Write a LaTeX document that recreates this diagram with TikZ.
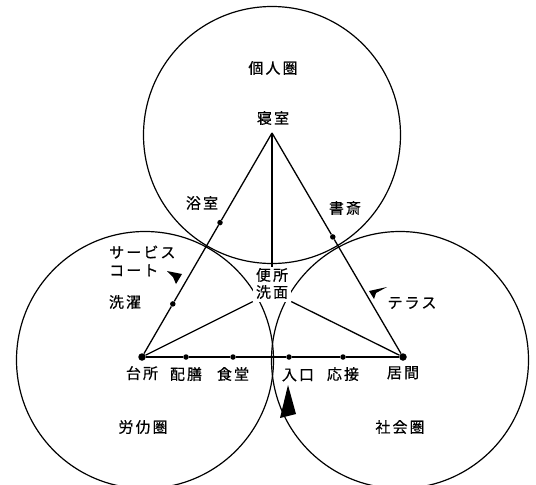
\documentclass[tikz,border=0pt]{standalone}
\usepackage{fontspec}
\newfontfamily\cjk[LetterSpace=14, FakeBold=0.6]{Noto Sans CJK JP}
\usetikzlibrary{positioning, calc}

\begin{document}
\begin{tikzpicture}[
    x=1pt, y=-1pt,
    zone/.style={draw, circle, minimum size=257pt, inner sep=0pt, line width=1.2pt},
    dot/.style={circle, fill, inner sep=0pt, minimum size=5.5pt},
    bigdot/.style={dot, minimum size=7.5pt},
    lbl/.style={font=\cjk\fontsize{15}{18}\selectfont, inner sep=1pt, align=center},
    line/.style={line width=1.3pt},
    wedge/.style={fill=black}
]
\useasboundingbox (0,0) rectangle (536,485);

% Zones
\node[zone] (personal) at (272,135) {};
\node[zone] (labour) at (145,360) {};
\node[zone] (social) at (400,360) {};

% Zone names
\node[lbl] (personalname) at (273,68) {個人圏};
\node[lbl] (labourname) at (143,427) {労仂圏};
\node[lbl] (socialname) at (400,427) {社会圏};

% Rooms on the triangle
\coordinate (bedroom) at (272,133);
\node[bigdot] (kitchen) at (142,357) {};
\node[bigdot] (living) at (403,357) {};
\node[dot] (bath) at ($(bedroom)!0.40!(kitchen)$) {};
\node[dot] (laundry) at ($(bedroom)!0.763!(kitchen)$) {};
\node[dot] (study) at ($(bedroom)!0.464!(living)$) {};
\node[dot] (serve) at (186,357) {};
\node[dot] (dining) at (233,357) {};
\node[dot] (entry) at (289,357) {};
\node[dot] (reception) at (343,357) {};

% Centre: toilet and washroom
\node[lbl] (toilet) at (272,275) {便所};
\node[lbl, fill=white, inner sep=3pt] (wash) at (272,292) {洗面};

% Room names
\node[lbl] (bedroomname) at (273,118) {寝室};
\node[lbl] (bathname) at (202,203) {浴室};
\node[lbl, align=left, anchor=west] (courtname) at (108,261) {サービス\\コート};
\node[lbl] (laundryname) at (125,302) {洗濯};
\node[lbl] (studyname) at (345,208) {書斎};
\node[lbl] (terracename) at (412,303) {テラス};
\node[lbl, below=4pt of kitchen] (kitchenname) {台所};
\node[lbl, below=6pt of serve] (servename) {配膳};
\node[lbl, below=6pt of dining] (diningname) {食堂};
\node[lbl] (entryname) at (298,375) {入口};
\node[lbl, below=6pt of reception] (receptionname) {応接};
\node[lbl, below=4pt of living] (livingname) {居間};

% Connections
\draw[line] (bedroom) -- (bath) -- (laundry) -- (kitchen);
\draw[line] (bedroom) -- (study) -- (living);
\draw[line] (kitchen) -- (serve) -- (dining) -- (entry) -- (reception) -- (living);
\draw[line] (bedroom) -- (toilet);
\draw[line] (wash) -- (kitchen);
\draw[line] (wash) -- (living);

% Entrances
\fill[wedge] (167,271) -- (182,274) -- (176,284) -- (173,277) -- cycle;
\fill[wedge] (387,287) -- (369,291) -- (374,299) -- (376,293) -- cycle;
\fill[wedge] (288,385) -- (296,414) -- (288,416) -- (280,418) -- cycle;

\end{tikzpicture}
\end{document}
